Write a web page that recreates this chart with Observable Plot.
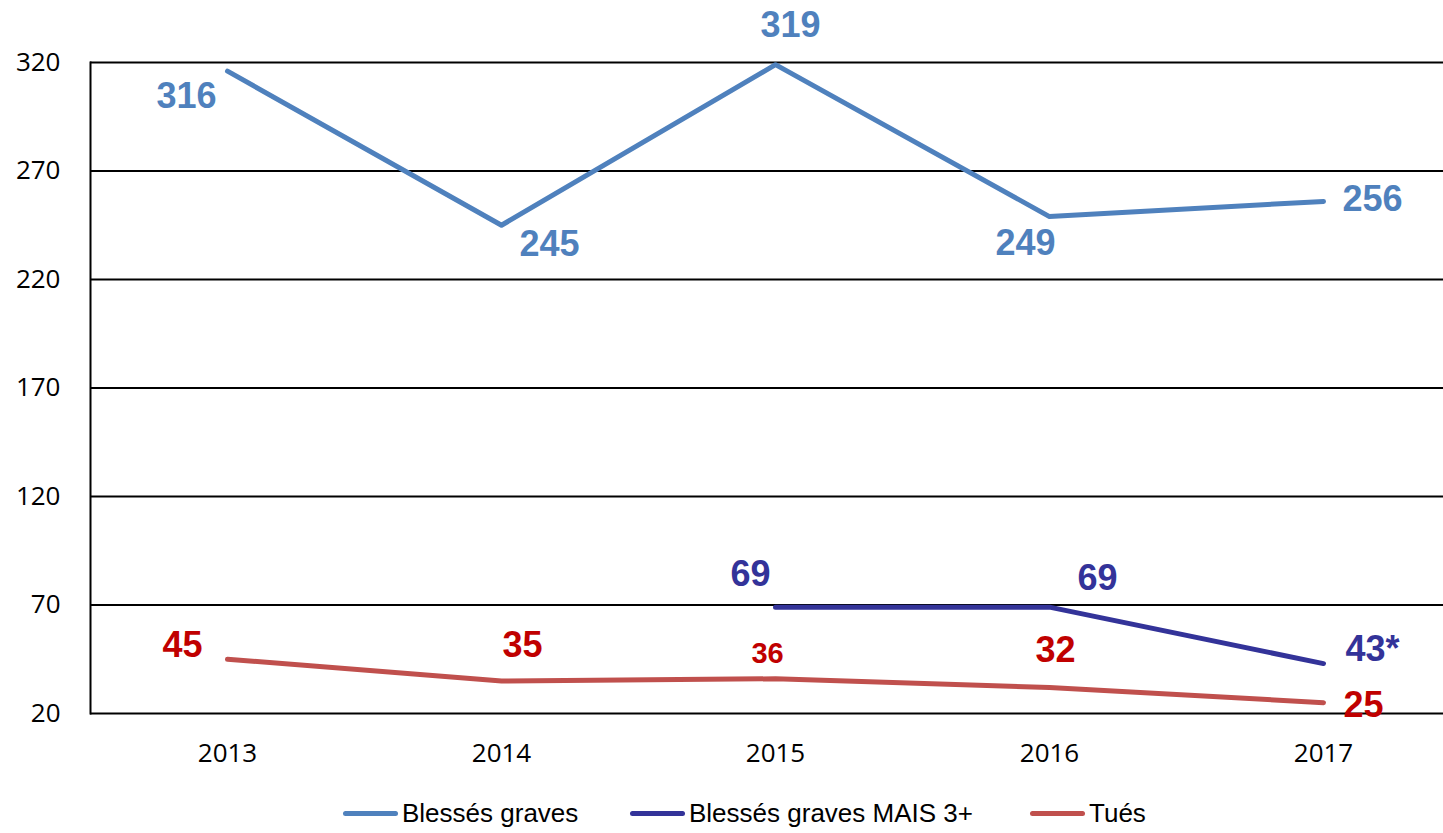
<!DOCTYPE html>
<html>
<head>
<meta charset="utf-8">
<script src="https://cdn.jsdelivr.net/npm/d3@7"></script>
<script src="https://cdn.jsdelivr.net/npm/@observablehq/plot@0.6"></script>
<style>
  body { margin: 0; background: #fff; }
  #legend { position: relative; height: 43px; width: 1443px; font-family: "Liberation Sans Narrow", "Liberation Sans", Arial, sans-serif; font-size: 26px; color: #000; }
  .item { position: absolute; top: 8px; display: flex; align-items: center; white-space: nowrap; }
  .sw { width: 55px; height: 5px; border-radius: 3px; margin-right: 4px; }
</style>
</head>
<body>
<div id="chart"></div>
<div id="legend"></div>
<script>
const years = [2013, 2014, 2015, 2016, 2017];
const blesses = [316, 245, 319, 249, 256];
const mais = [null, null, 69, 69, 43];
const maisLabels = ["", "", "69", "69", "43*"];
const tues = [45, 35, 36, 32, 25];
const yTicks = [20, 70, 120, 170, 220, 270, 320];
const seriesNames = ["Blessés graves", "Blessés graves MAIS 3+", "Tués"];

const series = [
  {name: seriesNames[0], values: blesses, labels: blesses.map(String), stroke: "#4F81BD", fill: "#4F81BD"},
  {name: seriesNames[1], values: mais, labels: maisLabels, stroke: "#333399", fill: "#333399"},
  {name: seriesNames[2], values: tues, labels: tues.map(String), stroke: "#C0504D", fill: "#C00000"}
];

// label layout: [dx, dy, fontSize]
const labelLayout = {
  "0-2013": [-41, 25, 36], "0-2014": [48, 19, 36], "0-2015": [15, -39, 36], "0-2016": [-24, 27, 36], "0-2017": [49, -2, 36],
  "1-2015": [-25, -33, 36], "1-2016": [48, -29, 36], "1-2017": [49, -14, 36],
  "2-2013": [-45, -14, 36], "2-2014": [21, -35, 36], "2-2015": [-8, -25, 29], "2-2016": [6, -37, 36], "2-2017": [40, 3, 36]
};

const marks = [
  Plot.ruleY(yTicks, {stroke: "#000", strokeWidth: 2}),
  Plot.frame({anchor: "left", stroke: "#000", strokeWidth: 2}),
  Plot.axisY({ticks: yTicks, tickSize: 0, tickPadding: 30, fontSize: 26, label: null, tickFormat: d => String(d)}),
  Plot.axisX({tickSize: 0, tickPadding: 30, fontSize: 26, label: null, tickFormat: d => String(d)})
];

series.forEach((s, si) => {
  const rows = years.map((yr, i) => ({year: yr, value: s.values[i], label: s.labels[i]})).filter(d => d.value != null);
  marks.push(Plot.line(rows, {x: "year", y: "value", stroke: s.stroke, strokeWidth: 5, strokeLinecap: "round", strokeLinejoin: "round"}));
  rows.forEach(d => {
    const [dx, dy, fs] = labelLayout[si + "-" + d.year];
    marks.push(Plot.text([d], {x: "year", y: "value", text: "label", fill: s.fill, fontWeight: "bold", fontSize: fs, dx, dy, textAnchor: "middle", lineAnchor: "middle", fontFamily: "Liberation Sans, Arial, sans-serif"}));
  });
});

const chart = Plot.plot({
  width: 1443,
  height: 790,
  marginLeft: 90,
  marginRight: 0,
  marginTop: 62,
  marginBottom: 77,
  style: {fontFamily: "'Open Sans', 'Liberation Sans', sans-serif", fontSize: "26px", color: "#000", background: "#fff", overflow: "visible"},
  x: {type: "point", domain: years, range: [90, 1460], padding: 0.5, label: null},
  y: {domain: [20, 320], label: null},
  marks
});
document.getElementById("chart").appendChild(chart);

const legendPos = [343, 630, 1030];
const legend = document.getElementById("legend");
series.forEach((s, i) => {
  const item = document.createElement("div");
  item.className = "item";
  item.style.left = legendPos[i] + "px";
  const sw = document.createElement("div");
  sw.className = "sw";
  sw.style.background = s.stroke;
  const t = document.createElement("span");
  t.textContent = s.name;
  item.appendChild(sw);
  item.appendChild(t);
  legend.appendChild(item);
});
</script>
</body>
</html>
